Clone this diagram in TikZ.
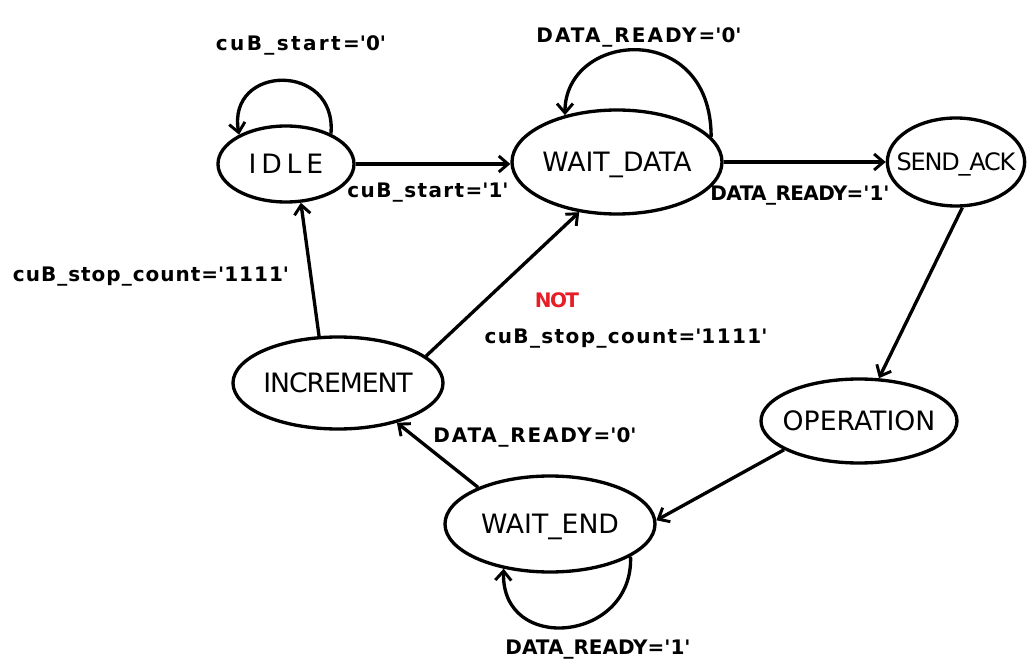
\documentclass[tikz,border=0pt]{standalone}
\usepackage{fontspec}
\setmainfont{DejaVu Sans}
\usetikzlibrary{arrows.meta,shapes.geometric}
\definecolor{notred}{RGB}{230,30,40}
\newcommand{\qt}[1]{\textquotesingle#1\textquotesingle}
\newcommand{\ls}[1]{\addfontfeatures{LetterSpace=#1}}
\newcommand{\st}[1]{\makebox[0pt]{\raisebox{-0.36em}[0pt][0pt]{#1}}}
\begin{document}
\begin{tikzpicture}[x=0.75pt,y=0.75pt,
  state/.style={draw,ellipse,line width=2.5pt,inner sep=0pt,font=\fontsize{20}{22}\selectfont},
  lbl/.style={inner sep=0pt,font=\bfseries\fontsize{15}{18}\selectfont},
  arr/.style={line width=2.5pt,-{Straight Barb[length=7pt,width=12pt,line width=2.2pt]}}]
\useasboundingbox (0,0) rectangle (1033,669);
\fill[white] (0,0) rectangle (1033,669);
% states
\node[state,minimum width=102pt,minimum height=57pt] (idle) at (286,505) {\st{\ls{18}IDLE}};
\node[state,minimum width=157.5pt,minimum height=78pt] (wd) at (617,507) {\st{WAIT\_DATA}};
\node[state,minimum width=103pt,minimum height=66pt,font=\fontsize{18}{20}\selectfont] (sa) at (956,507) {\st{\ls{-5}SEND\_ACK}};
\node[state,minimum width=147pt,minimum height=63pt] (op) at (859,248) {\st{OPERATION}};
\node[state,minimum width=157.5pt,minimum height=72pt] (we) at (550,145) {\st{WAIT\_END}};
\node[state,minimum width=157.5pt,minimum height=69pt] (inc) at (338,286) {\st{\ls{-4}INCREMENT}};
% labels
\node[lbl] (l1) at (301,624) {\ls{12}cuB\_start=\qt{0}};
\node[lbl] (l2) at (639,632) {\ls{10}DATA\_READY=\qt{0}};
\node[lbl] (l3) at (428,476) {\ls{7}cuB\_start=\qt{1}};
\node[lbl] (l4) at (800,473) {\ls{-3}DATA\_READY=\qt{1}};
\node[lbl] (l5) at (151,392) {\ls{5}cuB\_stop\_count=\qt{1111}};
\node[lbl,text=notred] (l6) at (557,369) {\ls{-8}NOT};
\node[lbl] (l7) at (626,330) {\ls{7}cuB\_stop\_count=\qt{1111}};
\node[lbl] (l8) at (535,232) {\ls{9}DATA\_READY=\qt{0}};
\node[lbl] (l9) at (598,19) {DATA\_READY=\qt{1}};
% transitions
\draw[arr] (idle.east) -- (wd.west |- idle.east);
\draw[arr] (wd.east) -- (sa.west);
\draw[arr] (sa.-82) -- (op.65);
\draw[arr] (op.201) -- (we.2);
\draw[arr] (we.153) -- (inc.-34);
\draw[arr] (inc.112) -- (idle.-69);
\draw[arr] (inc.17) -- (wd.233);
% self loops
\draw[arr] (idle.34) .. controls +(85:72) and +(100:72) .. (idle.148);
\draw[arr] (wd.15) .. controls +(90:118) and +(90:84) .. (wd.138);
\draw[arr] (we.-22) .. controls +(-88:86) and +(-92:86) .. (we.224);
\end{tikzpicture}
\end{document}
